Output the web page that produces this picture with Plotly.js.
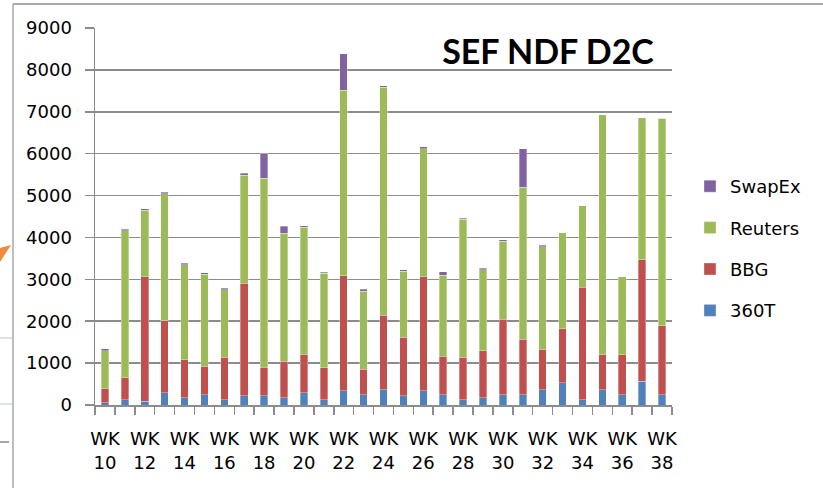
<!DOCTYPE html>
<html>
<head>
<meta charset="utf-8">
<script src="https://cdn.plot.ly/plotly-3.0.1.min.js"></script>
<style>html,body{margin:0;padding:0;background:#fff;}#chart{width:823px;height:488px;}</style>
</head>
<body>
<div id="chart"></div>
<script>
var weeks = ["10","11","12","13","14","15","16","17","18","19","20","21","22","23","24","25","26","27","28","29","30","31","32","33","34","35","36","37","38"];
var tickLabels = ["WK<br>10","","WK<br>12","","WK<br>14","","WK<br>16","","WK<br>18","","WK<br>20","","WK<br>22","","WK<br>24","","WK<br>26","","WK<br>28","","WK<br>30","","WK<br>32","","WK<br>34","","WK<br>36","","WK<br>38"];
var t360 = [50,130,90,290,170,250,130,220,220,170,290,130,340,250,370,220,340,250,130,170,250,250,370,530,130,370,250,570,250];
var bbg = [350,520,2970,1720,910,680,1010,2690,680,870,920,760,2750,600,1770,1400,2720,910,1010,1120,1800,1320,960,1290,2680,830,950,2900,1640];
var reuters = [900,3510,1590,3030,2270,2190,1610,2580,4510,3060,3030,2250,4420,1870,5450,1570,3060,1940,3290,1940,1860,3630,2450,2290,1950,5730,1860,3390,4960];
var swapex = [40,40,35,40,32,32,32,40,600,170,40,32,880,48,33,40,48,80,25,40,31,920,39,0,0,0,0,0,0];

var W = 823, H = 488, L = 95, R = 672, T = 28, B = 405;
function px(x){ return (x - L) / (R - L); }
function py(y){ return (B - y) / (B - T); }

var edge = {color: 'rgba(255,255,255,0.55)', width: 0.6};
function mk(name, vals, color, rank){
  return {type:'bar', name:name, x:weeks, y:vals, legendgroup:name, legendrank:rank,
    marker:{color:color, line:edge}, hoverinfo:'skip'};
}
var data = [
  mk('360T', t360, '#4F81BD', 4),
  mk('BBG', bbg, '#C0504D', 3),
  mk('Reuters', reuters, '#9BBB59', 2),
  mk('SwapEx', swapex, '#8064A2', 1)
];

var shapes = [
  {type:'line', xref:'paper', yref:'paper', x0:px(13), x1:px(823), y0:py(4), y1:py(4), line:{color:'#a8a8a8', width:2}},
  {type:'line', xref:'paper', yref:'paper', x0:px(13), x1:px(13), y0:py(4), y1:py(488), line:{color:'#a8a8a8', width:1.5}},
  {type:'line', xref:'paper', yref:'paper', x0:px(0), x1:px(12), y0:py(338), y1:py(338), line:{color:'#cdd8ea', width:1.5}},
  {type:'line', xref:'paper', yref:'paper', x0:px(0), x1:px(12), y0:py(404), y1:py(404), line:{color:'#cdd8ea', width:1.5}},
  {type:'line', xref:'paper', yref:'paper', x0:px(0), x1:px(12), y0:py(442), y1:py(442), line:{color:'#8a8a8a', width:1.5, dash:'dash'}},
  {type:'path', xref:'paper', yref:'paper', fillcolor:'#F08A3C', line:{width:0},
   path:'M '+px(0)+' '+py(248)+' L '+px(11)+' '+py(245)+' L '+px(0)+' '+py(262)+' Z'}
];

var layout = {
  width: W, height: H,
  margin: {l: L, r: W - R, t: T, b: H - B, pad: 0},
  paper_bgcolor: '#ffffff', plot_bgcolor: '#ffffff',
  barmode: 'stack', bargap: 0.62,
  font: {family: 'DejaVu Sans, sans-serif', size: 18, color: '#000'},
  title: {text: '<b>SEF NDF D2C</b>', font: {family: 'Lato, sans-serif', size: 34, color: '#000'},
          xref: 'container', yref: 'container', x: 548 / W, y: 1 - 52 / H, xanchor: 'center', yanchor: 'middle'},
  xaxis: {type: 'category', tickmode: 'array', tickvals: weeks, ticktext: tickLabels,
          tickson: 'boundaries', ticks: 'outside', ticklen: 8, tickcolor: '#8c8c8c', tickwidth: 1.5,
          ticklabelstandoff: 17,
          showline: true, linecolor: '#8c8c8c', linewidth: 1.5, showgrid: false, tickangle: 0,
          tickfont: {family: 'DejaVu Sans, sans-serif', size: 18, color: '#000'}, fixedrange: true},
  yaxis: {range: [0, 9000], dtick: 1000, tick0: 0, ticks: 'outside', ticklen: 9, tickcolor: '#8c8c8c', tickwidth: 1.5,
          ticklabelstandoff: 9,
          showline: true, linecolor: '#8c8c8c', linewidth: 1.5, showgrid: true, gridcolor: '#8c8c8c', gridwidth: 1.5,
          zeroline: false, tickfont: {family: 'DejaVu Sans, sans-serif', size: 18, color: '#000'}, fixedrange: true},
  legend: {traceorder: 'grouped', tracegroupgap: 15, x: px(690), xanchor: 'left', y: py(168), yanchor: 'top',
           font: {family: 'DejaVu Sans, sans-serif', size: 18, color: '#000'}, bgcolor: 'rgba(0,0,0,0)'},
  shapes: shapes,
  showlegend: true
};

Plotly.newPlot('chart', data, layout, {displayModeBar: false, staticPlot: true});
</script>
</body>
</html>
